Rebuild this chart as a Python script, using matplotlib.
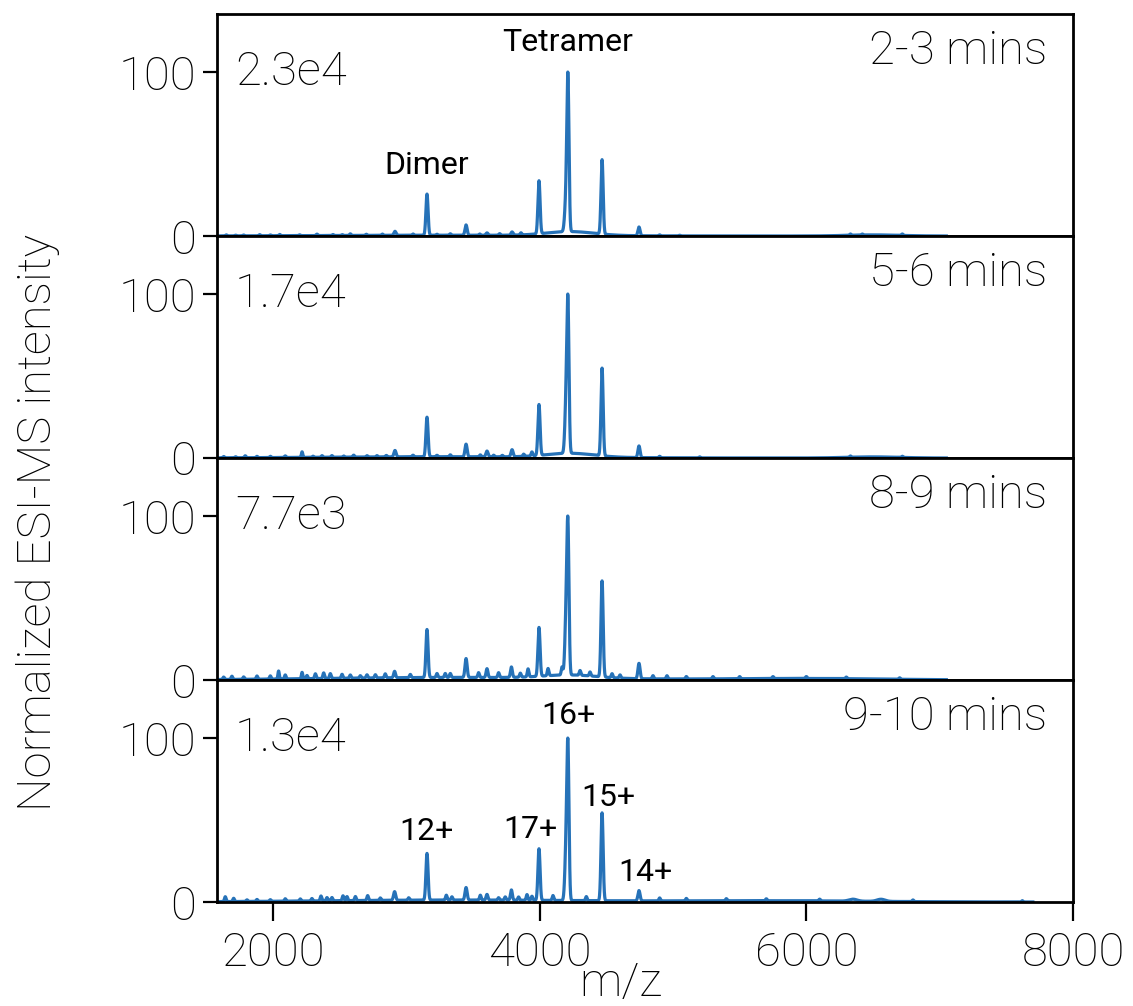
import numpy as np
import matplotlib
matplotlib.use("Agg")
import matplotlib.pyplot as plt

plt.rcParams['font.family'] = ['Roboto', 'DejaVu Sans']
plt.rcParams['font.weight'] = 'light'

# ---------------- data ----------------
time_windows = ["2-3 mins", "5-6 mins", "8-9 mins", "9-10 mins"]
abs_intensity = ["2.3e4", "1.7e4", "7.7e3", "1.3e4"]

# main peaks: centre (m/z), normalized height, sigma (m/z) per panel
p1_mz = [2915, 3155, 3448, 3605, 3793, 3995, 4198, 4212, 4468, 4745, 4230, 3300, 6500]
p1_int = [2.5, 26, 6.5, 1.5, 2.0, 33.5, 20, 93, 47, 5.5, 2.5, 0.5, 0.7]
p1_w = [8, 8, 8, 8, 8, 8, 10, 8, 8, 8, 180, 900, 200]

p2_mz = [2218, 2915, 3155, 3448, 3605, 3793, 3995, 4198, 4212, 4468, 4745, 4230, 3300, 6500]
p2_int = [3.5, 4.0, 24.8, 7.9, 3.6, 4.4, 31.9, 30, 90, 55, 7.3, 2.5, 0.8, 0.7]
p2_w = [5, 8, 8, 8, 8, 8, 8, 9, 8, 8, 8, 180, 900, 200]

p3_mz = [2042, 2218, 2912, 3155, 3448, 3605, 3788, 3913, 3995, 4063, 4168, 4198, 4212,
         4303, 4378, 4468, 4543, 4603, 4745, 4230, 3400, 6000]
p3_int = [5.0, 4.0, 4.0, 30, 11.8, 5.5, 6.5, 5.0, 30.5, 4.5, 5.0, 34, 88,
          3.0, 2.5, 60, 2.5, 2.0, 9.6, 2.0, 1.6, 0.9]
p3_w = [5, 5, 7, 8, 8, 7, 7, 6, 8, 6, 6, 9, 8,
        6, 6, 8, 6, 6, 8, 200, 1000, 600]

p4_mz = [1642, 2360, 2912, 3155, 3300, 3448, 3605, 3788, 3905, 3995, 4198, 4212,
         4468, 4745, 6350, 6560, 7620, 3400, 5800]
p4_int = [3.0, 3.0, 5.3, 28.7, 3.0, 7.7, 3.5, 6.3, 3.5, 31.7, 30, 90,
          54, 6.3, 1.2, 1.3, 0.8, 1.2, 0.7]
p4_w = [6, 6, 8, 8, 6, 8, 7, 7, 6, 8, 9, 8,
        8, 8, 30, 30, 5, 1000, 700]

# small baseline noise bumps (m/z, height) per panel
n1_mz = [1650, 1720, 1780, 1900, 1980, 2050, 2200, 2330, 2450, 2520, 2580, 2700, 2820,
         3050, 3230, 3330, 3550, 3700, 3860, 4900, 5050, 6330, 6420, 6720]
n1_int = [0.6, 0.4, 0.5, 0.7, 0.5, 0.8, 0.5, 0.9, 0.6, 0.5, 1.0, 0.7, 0.8,
          0.8, 0.6, 0.9, 0.8, 1.0, 1.3, 0.6, 0.4, 0.8, 0.6, 0.9]

n2_mz = [1630, 1720, 1792, 1880, 1980, 2092, 2300, 2368, 2442, 2530, 2605, 2705, 2780,
         2850, 3050, 3230, 3330, 3555, 3655, 3720, 3880, 3942, 4900, 5200, 6330, 6720]
n2_int = [0.8, 0.6, 1.2, 0.8, 0.8, 1.0, 0.7, 1.0, 1.0, 0.7, 1.2, 0.8, 0.8,
          0.9, 1.0, 0.9, 1.2, 1.2, 1.0, 0.9, 1.4, 2.5, 0.9, 0.6, 0.8, 0.7]

n3_mz = [1630, 1692, 1780, 1880, 1980, 2092, 2255, 2318, 2380, 2430, 2518, 2580, 2655,
         2705, 2768, 2842, 3030, 3230, 3292, 3330, 3542, 3692, 3855, 4850, 4955,
         5100, 5300, 5500, 5750, 6000, 6300, 6700]
n3_int = [1.5, 2.0, 1.5, 2.0, 2.0, 2.5, 2.0, 3.0, 3.5, 3.0, 2.5, 2.0, 1.5,
          2.0, 2.0, 2.5, 2.0, 2.5, 2.5, 2.5, 3.0, 3.0, 2.5, 2.0, 2.0,
          1.5, 1.4, 1.3, 1.2, 1.2, 1.0, 0.9]

n4_mz = [1705, 1805, 1880, 1980, 2092, 2205, 2292, 2405, 2442, 2525, 2555, 2618, 2710,
         2805, 3018, 3342, 3555, 3692, 3742, 3842, 3942, 4100, 4350, 4900, 5100,
         5400, 5700, 6100, 6800]
n4_int = [2.0, 1.0, 1.2, 1.0, 1.5, 1.3, 1.5, 2.0, 2.0, 3.0, 2.5, 2.5, 3.0,
          1.5, 1.5, 2.0, 3.0, 1.5, 2.0, 2.0, 2.5, 3.0, 2.5, 1.8, 1.5,
          1.3, 1.2, 1.1, 1.0]

peaks = [(p1_mz, p1_int, p1_w), (p2_mz, p2_int, p2_w), (p3_mz, p3_int, p3_w), (p4_mz, p4_int, p4_w)]
noise = [(n1_mz, n1_int), (n2_mz, n2_int), (n3_mz, n3_int), (n4_mz, n4_int)]

# annotations
ann_top_text = ["Dimer", "Tetramer"]
ann_top_x = [3155, 4212]
ann_top_y = [43, 118]
ann_bot_text = ["12+", "17+", "16+", "15+", "14+"]
ann_bot_x = [3148, 3928, 4213, 4513, 4790]
ann_bot_y = [43, 44, 114, 64, 18]

# ---------------- figure ----------------
W, H = 1133, 1006
fig = plt.figure(figsize=(W / 100, H / 100), dpi=100)
left, right = 217 / W, 1073 / W
top, bottom = 1 - 14 / H, 1 - 902 / H
gs = fig.add_gridspec(4, 1, left=left, right=right, top=top, bottom=bottom, hspace=0)

mz = np.arange(1600, 7700, 1.0)
color = '#2672b8'
BIG = 34

for i in range(4):
    ax = fig.add_subplot(gs[i])
    pmz, pint, pw = peaks[i]
    y = np.zeros_like(mz)
    for c, h, w in zip(pmz, pint, pw):
        y += h * np.exp(-0.5 * ((mz - c) / w) ** 2)
    nmz, nint = noise[i]
    for c, h in zip(nmz, nint):
        y += h * np.exp(-0.5 * ((mz - c) / 6) ** 2)
    y = y / y.max() * 100.0
    mask = mz <= (7700 if i == 3 else 7050)
    ax.plot(mz[mask], y[mask], color=color, lw=2.3, solid_joinstyle='round')

    ax.set_xlim(1580, 8000)
    ax.set_ylim(0, 135.4)
    ax.set_yticks([0, 100])
    ax.set_yticklabels(['0', '100'])
    ax.set_xticks([2000, 4000, 6000, 8000])
    for s in ax.spines.values():
        s.set_linewidth(2.0)
    ax.tick_params(axis='y', direction='out', length=10, width=1.6, labelsize=BIG, pad=5)
    if i < 3:
        ax.tick_params(axis='x', length=0, labelbottom=False)
    else:
        ax.tick_params(axis='x', direction='out', length=14, width=1.6, labelsize=BIG, pad=7)
        ax.set_xticklabels(['2000', '4000', '6000', '8000'])

    ax.text(0.021, 0.739, abs_intensity[i], transform=ax.transAxes, fontsize=BIG,
            ha='left', va='center')
    ax.text(0.970, 0.835, time_windows[i], transform=ax.transAxes, fontsize=BIG,
            ha='right', va='center')

    if i == 0:
        for t, xx, yy in zip(ann_top_text, ann_top_x, ann_top_y):
            ax.text(xx, yy, t, fontsize=23, ha='center', va='center', fontweight='normal')
    if i == 3:
        for t, xx, yy in zip(ann_bot_text, ann_bot_x, ann_bot_y):
            ax.text(xx, yy, t, fontsize=23, ha='center', va='center', fontweight='normal')

fig.text(38 / W, 1 - 522 / H, "Normalized ESI-MS intensity", rotation=90,
         ha='center', va='center', fontsize=BIG)
fig.text(621 / W, 1 - 983 / H, "m/z", ha='center', va='center', fontsize=BIG)

fig.savefig("out.png", dpi=100)
